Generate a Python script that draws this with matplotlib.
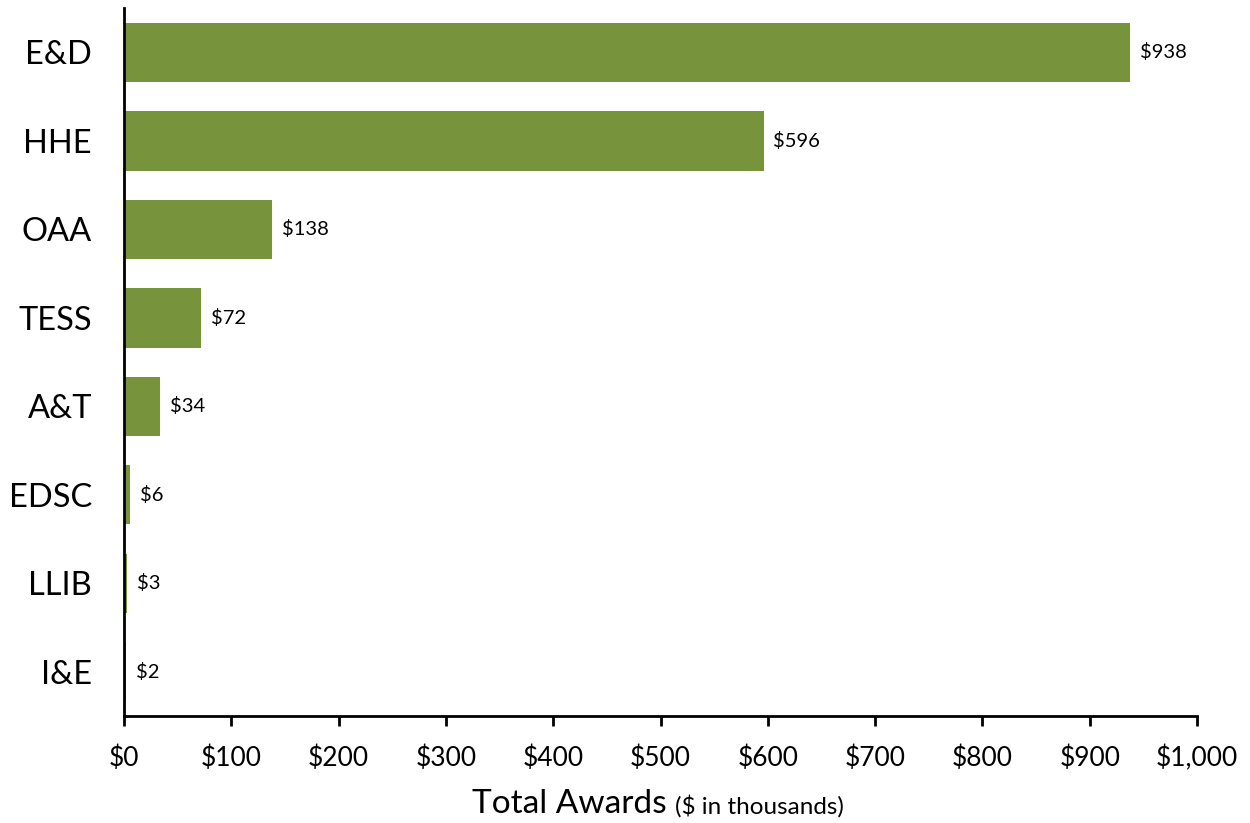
import matplotlib.pyplot as plt

plt.rcParams['font.family'] = ['Lato', 'DejaVu Sans']

categories = ['E&D', 'HHE', 'OAA', 'TESS', 'A&T', 'EDSC', 'LLIB', 'I&E']
awards = [938, 596, 138, 72, 34, 6, 3, 2]
xticks = [0, 100, 200, 300, 400, 500, 600, 700, 800, 900, 1000]
xtick_labels = ['$0', '$100', '$200', '$300', '$400', '$500', '$600',
                '$700', '$800', '$900', '$1,000']

fig = plt.figure(figsize=(12.5, 8.23), dpi=100)
ax = fig.add_axes([0.0992, 0.130, 0.8584, 0.860])

ypos = list(range(len(categories)))
ax.barh(ypos, awards, height=0.67, color='#77933C')

for y, v in zip(ypos, awards):
    ax.text(v + 9, y, '$' + str(v), va='center', ha='left', fontsize=14.5)

ax.set_xlim(0, 1000)
ax.set_ylim(7.5, -0.5)
ax.set_xticks(xticks)
ax.set_xticklabels(xtick_labels, fontsize=19)
ax.set_yticks(ypos)
ax.set_yticklabels(categories, fontsize=23.5)

ax.tick_params(axis='y', length=0, pad=23)
ax.tick_params(axis='x', length=7, width=2, direction='out', pad=14)

for side in ['top', 'right']:
    ax.spines[side].set_visible(False)
for side in ['left', 'bottom']:
    ax.spines[side].set_linewidth(2)

fig.text(0.533, 0.012, 'Total Awards', ha='right', va='baseline', fontsize=24)
fig.text(0.540, 0.012, '($ in thousands)', ha='left', va='baseline', fontsize=17.5)

fig.savefig('out.png', dpi=100)
